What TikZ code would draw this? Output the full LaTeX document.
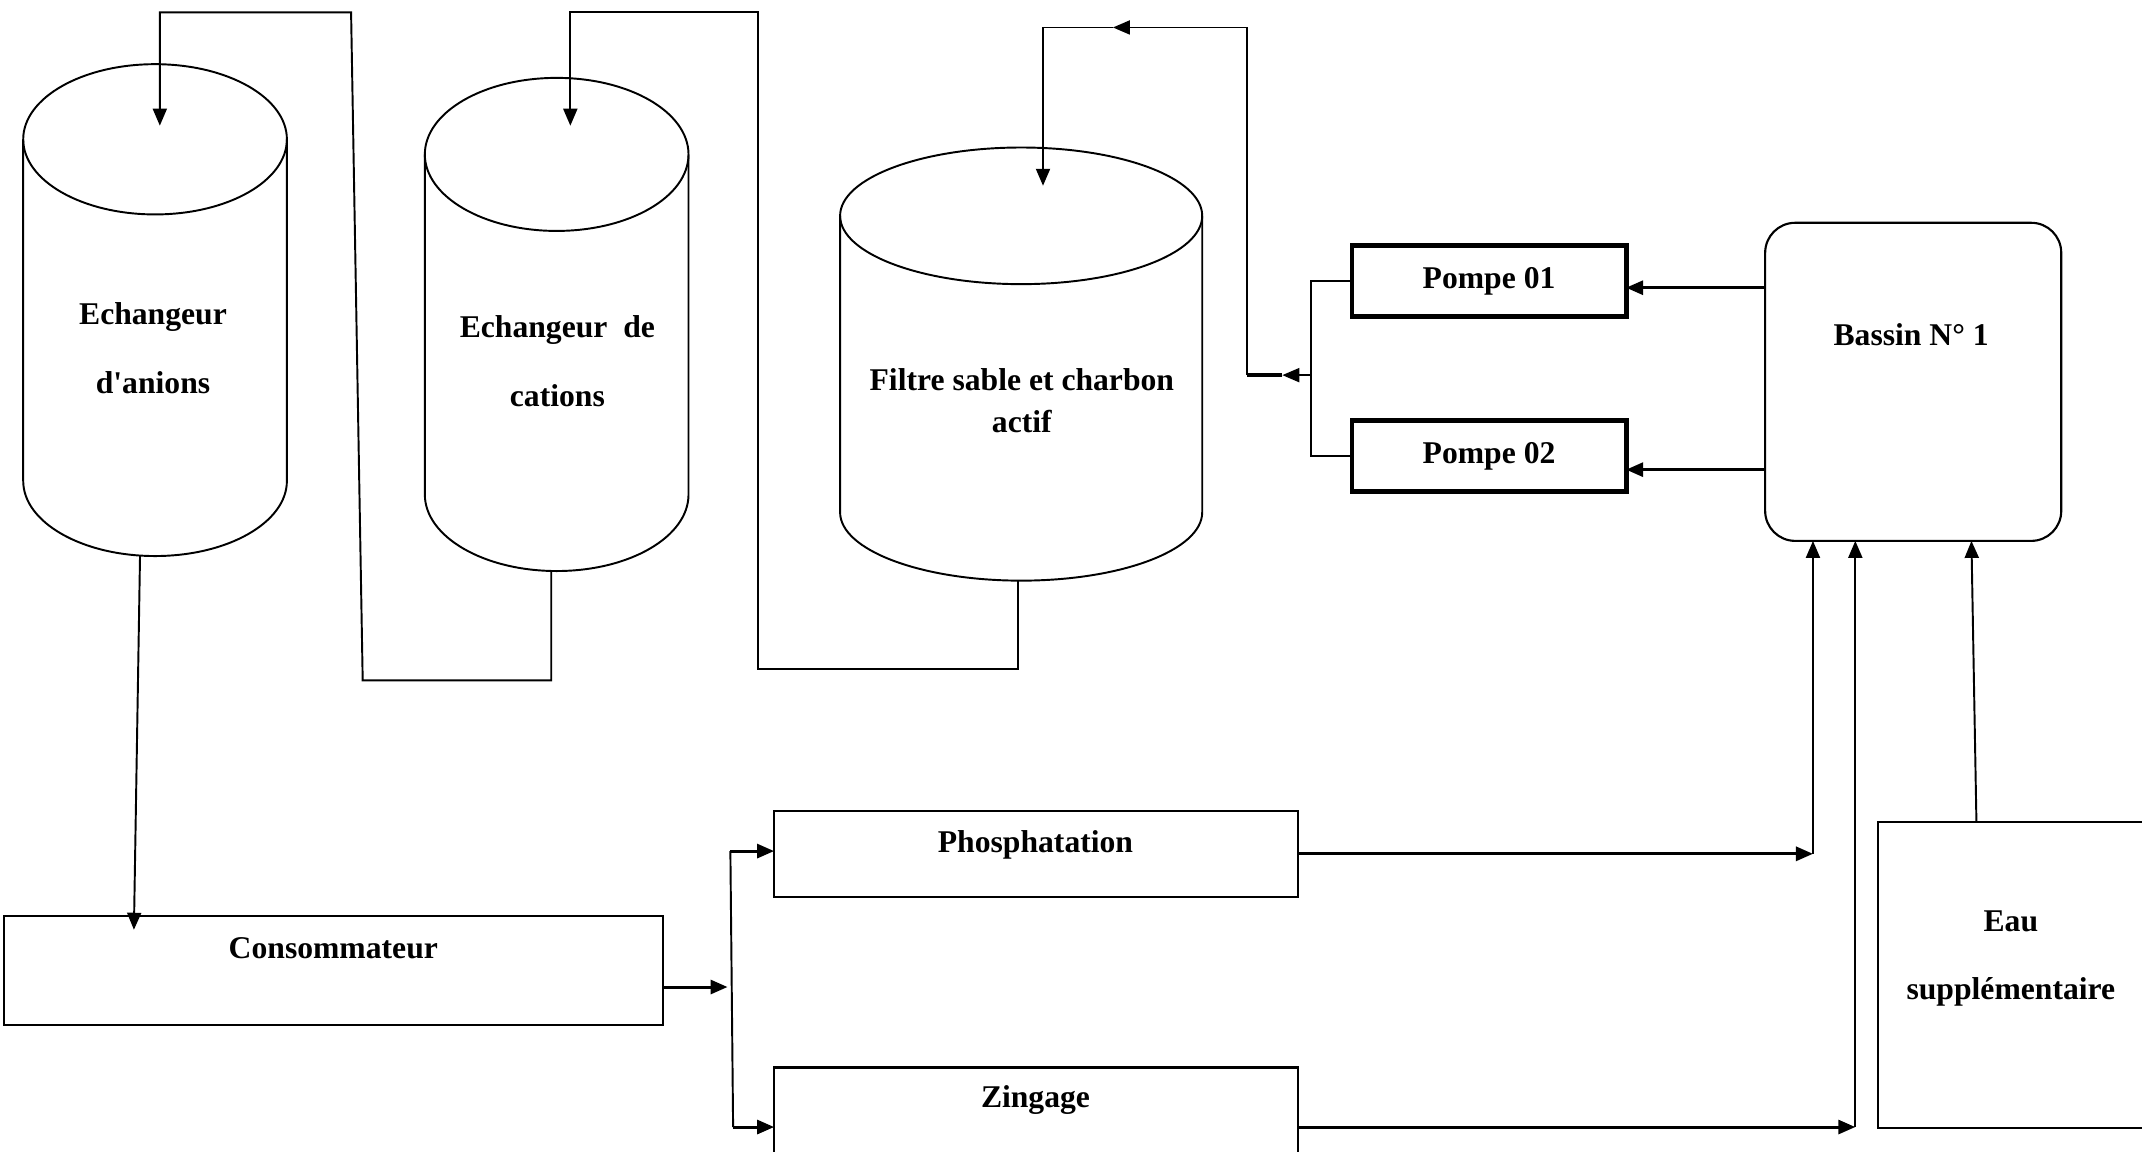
\documentclass[tikz,border=0pt]{standalone}
\usepackage{fontspec}
\setmainfont{Liberation Serif}
\usetikzlibrary{arrows.meta,positioning,calc}
\tikzset{tank/.style={rectangle,inner sep=0pt,outer sep=0pt}}
\tikzset{box/.style={draw,rectangle,line width=0.6pt,outer sep=0pt}}
\tikzset{pump/.style={draw,rectangle,line width=1.4pt,outer sep=0pt,minimum width=2.74cm,minimum height=0.71cm,font=\bfseries\fontsize{9}{11}\selectfont}}
\tikzset{lbl/.style={font=\bfseries\fontsize{9}{11}\selectfont,align=center,inner sep=0pt}}
\tikzset{wide/.style={lbl,font=\bfseries\fontsize{9}{19.5}\selectfont}}
\tikzset{pipe/.style={line width=0.55pt}}
\tikzset{flow/.style={line width=0.85pt}}
\tikzset{tip/.style={-{Triangle[length=0.17cm,width=0.14cm]}}}

\begin{document}
\begin{tikzpicture}[x=0.01366cm,y=-0.01366cm]
\useasboundingbox (0,0) rectangle (1568,843);
% tanks (body between the two end ellipses)
\node[tank,minimum width=2.636cm,minimum height=3.415cm] (anion) at (113.5,227) {};
\node[tank,minimum width=2.636cm,minimum height=3.40cm] (cation) at (407.5,237.5) {};
\node[tank,minimum width=3.62cm,minimum height=2.964cm] (filter) at (747.5,266.5) {};
\draw[pipe] (anion.north) ellipse [x radius=1.318cm,y radius=0.751cm];
\draw[pipe] (anion.north west) -- (anion.south west) arc[start angle=180,end angle=360,x radius=1.318cm,y radius=0.751cm] -- (anion.north east);
\draw[pipe] (cation.north) ellipse [x radius=1.318cm,y radius=0.765cm];
\draw[pipe] (cation.north west) -- (cation.south west) arc[start angle=180,end angle=360,x radius=1.318cm,y radius=0.765cm] -- (cation.north east);
\draw[pipe] (filter.north) ellipse [x radius=1.81cm,y radius=0.683cm];
\draw[pipe] (filter.north west) -- (filter.south west) arc[start angle=180,end angle=360,x radius=1.81cm,y radius=0.683cm] -- (filter.north east);
\node[wide] at (112,255) {Echangeur\\d\textquotesingle anions};
\node[wide] at (408,264.5) {Echangeur \ de\\cations};
\node[lbl,font=\bfseries\fontsize{9}{12}\selectfont] at (748,293.5) {Filtre sable et charbon\\actif};
% pumps and basin
\node[pump] (p1) at (1090,205.6) {Pompe 01};
\node[pump] (p2) at (1090,333.8) {Pompe 02};
\node[box,rounded corners=0.3cm,minimum width=2.96cm,minimum height=3.18cm] (bassin) at (1400.5,279.5) {};
\node[lbl] at (1399,245) {Bassin N° 1};
% lower boxes
\node[box,minimum width=6.59cm,minimum height=1.09cm] (cons) at (244.3,710.5) {};
\node[lbl] at (244,694) {Consommateur};
\node[box,minimum width=5.24cm,minimum height=0.86cm] (phos) at (758.5,625) {};
\node[lbl] at (758,618.6) {Phosphatation};
\node[box,minimum width=5.24cm,minimum height=1.19cm] (zing) at (758.5,825) {};
\node[lbl] at (758,805.3) {Zingage};
\node[box,minimum width=2.71cm,minimum height=3.06cm] (eau) at (1474,713.9) {};
\node[wide] at (1472,701.5) {Eau\\supplémentaire};
% inlet and outlet points
\coordinate (ain) at ($(anion.north)+(3.5,-10)$);
\coordinate (cin) at ($(cation.north)+(10,-21)$);
\coordinate (fin) at ($(filter.north)+(16,-22)$);
\coordinate (aout) at ($(anion.south)+(-11,55)$);
\coordinate (cout) at ($(cation.south)+(-4,56)$);
\coordinate (fout) at ($(filter.south)+(-2,50)$);
\coordinate (in1) at ($(bassin.south west)+(35,0)$);
\coordinate (in2) at ($(bassin.south west)+(66,0)$);
\coordinate (in3) at ($(bassin.south west)+(151,0)$);
% tank piping
\draw[pipe,tip] (cout) -- ++(0,80) -- (265.5,498) -- (257,9) -| (ain);
\draw[pipe,tip] (fout) -- ++(0,65) -| (555,9) -| (cin);
\draw[pipe,tip] (aout) -- ($(cons.north west)+(95,10)$);
% pumps to filter
\draw[flow,tip] ($(bassin.west |- p1.east)+(0,5)$) -- ($(p1.east)+(0,5)$);
\draw[flow,tip] ($(bassin.west |- p2.east)+(0,10)$) -- ($(p2.east)+(0,10)$);
\draw[pipe] (p1.west) -- ++(-30,0) coordinate (br1) |- (p2.west);
\coordinate (br) at ($(br1)+(0,69)$);
\draw[pipe,tip] (br) -- ++(-21,0) coordinate (bk);
\draw[line width=1.3pt] (bk) -- ++(-26,0) coordinate (up);
\draw[pipe] (up) -- ++(0,-254.5) coordinate (top);
\draw[pipe,tip] (top) -- ++(-98,0) coordinate (mid);
\draw[pipe,tip] (mid) -| (fin);
% consumers
\coordinate (s1) at ($(phos.west)+(-32,-2)$);
\coordinate (s2) at ($(zing.west)+(-30,0)$);
\draw[flow,tip] ($(cons.east)+(0,12)$) -- ++(47,0);
\draw[pipe] (s1) -- (s2);
\draw[flow,tip] (s1) -- ($(phos.west)+(0,-2)$);
\draw[flow,tip] (s2) -- (zing.west);
% returns to basin
\draw[flow,tip] (phos.east) -- (phos.east -| in1);
\draw[pipe,tip] (phos.east -| in1) -- (in1);
\draw[flow,tip] (zing.east) -- (zing.east -| in2);
\draw[pipe,tip] (zing.east -| in2) -- (in2);
\draw[pipe,tip] ($(eau.north west)+(72,0)$) -- (in3);
\end{tikzpicture}
\end{document}
